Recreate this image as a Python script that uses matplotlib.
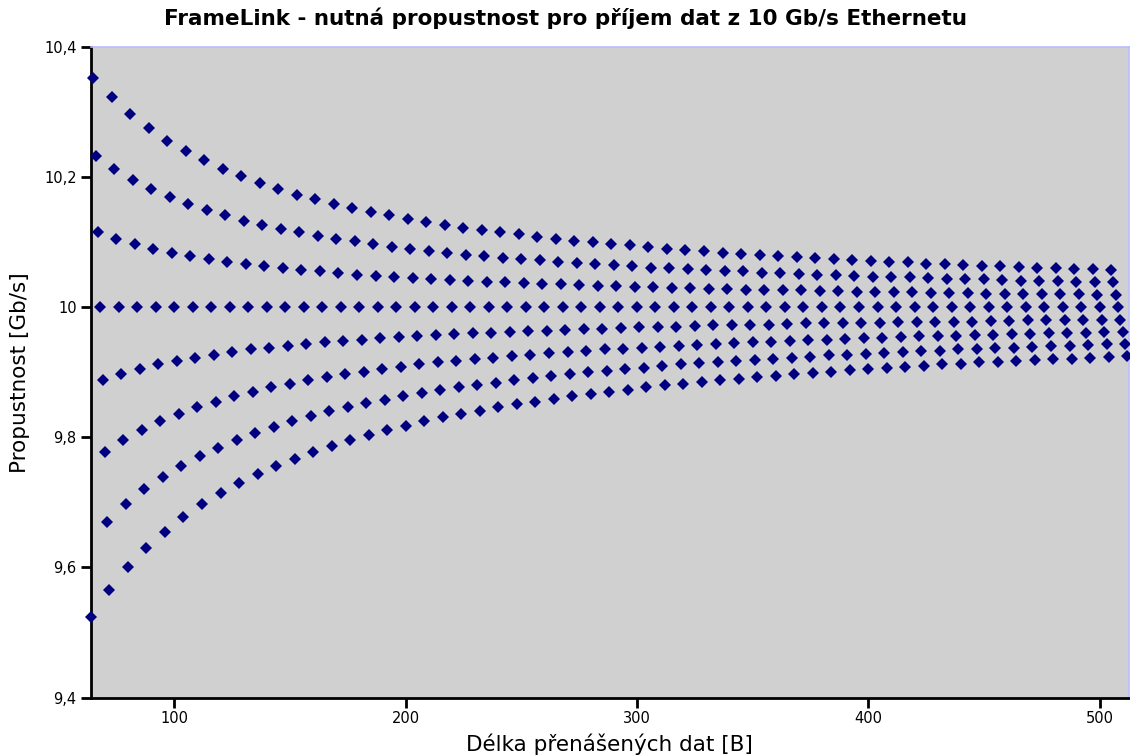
import numpy as np
import matplotlib
matplotlib.use("Agg")
import matplotlib.pyplot as plt
from matplotlib.ticker import FuncFormatter

# delky dat (B) - kazda rada ma jiny zbytek po deleni 8
len_r0 = list(range(64, 513, 8))
len_r1 = list(range(65, 513, 8))
len_r2 = list(range(66, 513, 8))
len_r3 = list(range(67, 513, 8))
len_r4 = list(range(68, 513, 8))
len_r5 = list(range(69, 513, 8))
len_r6 = list(range(70, 513, 8))
len_r7 = list(range(71, 513, 8))

# propustnost (Gb/s)
tp_r1 = [10.353, 10.323, 10.297, 10.275, 10.256, 10.240, 10.226, 10.213, 10.201, 10.191,
         10.182, 10.173, 10.166, 10.159, 10.152, 10.146, 10.141, 10.136, 10.131, 10.127,
         10.122, 10.119, 10.115, 10.112, 10.108, 10.105, 10.102, 10.100, 10.097, 10.095,
         10.092, 10.090, 10.088, 10.086, 10.084, 10.082, 10.080, 10.079, 10.077, 10.076,
         10.074, 10.073, 10.071, 10.070, 10.069, 10.067, 10.066, 10.065, 10.064, 10.063,
         10.062, 10.061, 10.060, 10.059, 10.058, 10.057]
tp_r2 = [10.233, 10.213, 10.196, 10.182, 10.169, 10.159, 10.149, 10.141, 10.133, 10.127,
         10.120, 10.115, 10.110, 10.105, 10.101, 10.097, 10.093, 10.090, 10.087, 10.084,
         10.081, 10.079, 10.076, 10.074, 10.072, 10.070, 10.068, 10.066, 10.065, 10.063,
         10.061, 10.060, 10.058, 10.057, 10.056, 10.055, 10.053, 10.052, 10.051, 10.050,
         10.049, 10.048, 10.047, 10.047, 10.046, 10.045, 10.044, 10.043, 10.043, 10.042,
         10.041, 10.040, 10.040, 10.039, 10.039, 10.038]
tp_r3 = [10.115, 10.105, 10.097, 10.090, 10.084, 10.079, 10.074, 10.070, 10.066, 10.063,
         10.060, 10.057, 10.055, 10.052, 10.050, 10.048, 10.047, 10.045, 10.043, 10.042,
         10.040, 10.039, 10.038, 10.037, 10.036, 10.035, 10.034, 10.033, 10.032, 10.031,
         10.031, 10.030, 10.029, 10.028, 10.028, 10.027, 10.027, 10.026, 10.026, 10.025,
         10.025, 10.024, 10.024, 10.023, 10.023, 10.022, 10.022, 10.022, 10.021, 10.021,
         10.021, 10.020, 10.020, 10.020, 10.019, 10.019]
tp_r4 = [10.0] * 56
tp_r5 = [9.888, 9.897, 9.905, 9.912, 9.917, 9.922, 9.927, 9.931, 9.935, 9.938,
         9.941, 9.944, 9.946, 9.948, 9.950, 9.952, 9.954, 9.956, 9.957, 9.959,
         9.960, 9.961, 9.962, 9.963, 9.964, 9.965, 9.966, 9.967, 9.968, 9.969,
         9.970, 9.970, 9.971, 9.972, 9.972, 9.973, 9.973, 9.974, 9.975, 9.975,
         9.976, 9.976, 9.976, 9.977, 9.977, 9.978, 9.978, 9.978, 9.979, 9.979,
         9.980, 9.980, 9.980, 9.981, 9.981, 9.981]
tp_r6 = [9.778, 9.796, 9.811, 9.825, 9.836, 9.846, 9.855, 9.863, 9.870, 9.877,
         9.882, 9.888, 9.892, 9.897, 9.901, 9.905, 9.908, 9.912, 9.915, 9.917,
         9.920, 9.922, 9.925, 9.927, 9.929, 9.931, 9.933, 9.935, 9.936, 9.938,
         9.939, 9.941, 9.942, 9.944, 9.945, 9.946, 9.947, 9.948, 9.949, 9.950,
         9.951, 9.952, 9.953, 9.954, 9.955, 9.956, 9.956, 9.957, 9.958, 9.959,
         9.959, 9.960, 9.960, 9.961, 9.962, 9.962]
tp_r7 = [9.670, 9.697, 9.720, 9.739, 9.756, 9.771, 9.784, 9.796, 9.806, 9.816,
         9.825, 9.832, 9.840, 9.846, 9.852, 9.858, 9.863, 9.868, 9.872, 9.877,
         9.880, 9.884, 9.888, 9.891, 9.894, 9.897, 9.900, 9.902, 9.905, 9.907,
         9.909, 9.912, 9.914, 9.915, 9.917, 9.919, 9.921, 9.922, 9.924, 9.926,
         9.927, 9.928, 9.930, 9.931, 9.932, 9.933, 9.935, 9.936, 9.937, 9.938,
         9.939, 9.940, 9.941, 9.942, 9.943, 9.944]
tp_r0 = [9.524, 9.565, 9.600, 9.630, 9.655, 9.677, 9.697, 9.714, 9.730, 9.744,
         9.756, 9.767, 9.778, 9.787, 9.796, 9.804, 9.811, 9.818, 9.825, 9.831,
         9.836, 9.841, 9.846, 9.851, 9.855, 9.859, 9.863, 9.867, 9.870, 9.873,
         9.877, 9.880, 9.882, 9.885, 9.888, 9.890, 9.892, 9.895, 9.897, 9.899,
         9.901, 9.903, 9.905, 9.907, 9.908, 9.910, 9.912, 9.913, 9.915, 9.916,
         9.917, 9.919, 9.920, 9.921, 9.922, 9.924, 9.925]

x_ticks = [100, 200, 300, 400, 500]
y_ticks = [9.4, 9.6, 9.8, 10.0, 10.2, 10.4]

fig = plt.figure(figsize=(11.3, 7.55), dpi=100)
ax = fig.add_axes([90.5 / 1130, 1 - 697.5 / 755, 1038 / 1130, 650.5 / 755])
ax.set_facecolor('#d0d0d0')

for xs, ys in [(len_r0, tp_r0), (len_r1, tp_r1), (len_r2, tp_r2), (len_r3, tp_r3),
               (len_r4, tp_r4), (len_r5, tp_r5), (len_r6, tp_r6), (len_r7, tp_r7)]:
    ax.plot(xs, ys, linestyle='none', marker='D', markersize=5.8, markeredgewidth=0,
            color='#000080', clip_on=False, zorder=3)

ax.set_xlim(63.8, 512.5)
ax.set_ylim(9.4, 10.4)
ax.set_xticks(x_ticks)
ax.set_yticks(y_ticks)
ax.yaxis.set_major_formatter(FuncFormatter(lambda v, p: f"{v:g}".replace('.', ',')))

for s in ['left', 'bottom']:
    ax.spines[s].set_linewidth(2)
    ax.spines[s].set_color('black')
for s in ['top', 'right']:
    ax.spines[s].set_linewidth(1.2)
    ax.spines[s].set_color('#bcbcff')
ax.tick_params(top=False, right=False, direction='out', length=7, width=2,
               labelsize=10.5, pad=3)

ax.set_xlabel('Délka přenášených dat [B]', fontsize=15.5, labelpad=5)
ax.set_ylabel('Propustnost [Gb/s]', fontsize=15.5, labelpad=10)
fig.text(0.5, 1 - 18 / 755, 'FrameLink - nutná propustnost pro příjem dat z 10 Gb/s Ethernetu',
         ha='center', va='center', fontsize=15.5, fontweight='bold')

fig.savefig('out.png', dpi=100)
